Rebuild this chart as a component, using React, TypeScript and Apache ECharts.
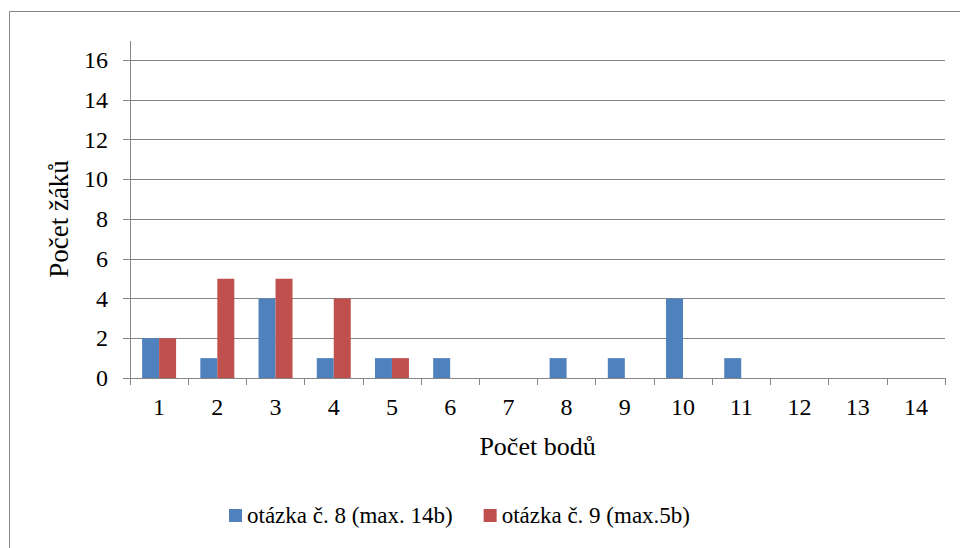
import React, { useEffect, useRef } from "react";
import * as echarts from "echarts";

const categories = ["1", "2", "3", "4", "5", "6", "7", "8", "9", "10", "11", "12", "13", "14"];
const seriesNames = ["otázka č. 8 (max. 14b)", "otázka č. 9 (max.5b)"];
const q8Values = [2, 1, 4, 1, 1, 1, 0, 1, 1, 4, 1, 0, 0, 0];
const q9Values = [2, 5, 5, 4, 1, 0, 0, 0, 0, 0, 0, 0, 0, 0];
const yTitle = "Počet žáků";
const xTitle = "Počet bodů";

const FONT = "Liberation Serif";
const GRAY = "#868686";

export default function App() {
  const ref = useRef<HTMLDivElement>(null);
  useEffect(() => {
    if (!ref.current) return;
    const chart = echarts.init(ref.current, undefined, { renderer: "svg" });
    chart.setOption({
      animation: false,
      backgroundColor: "#ffffff",
      textStyle: { fontFamily: FONT, color: "#000" },
      grid: { left: 130, right: 15, top: 60, bottom: 170, containLabel: false },
      legend: {
        left: 224,
        top: 499,
        itemWidth: 13,
        itemHeight: 13,
        itemGap: 31,
        icon: "rect",
        textStyle: { fontFamily: FONT, fontSize: 23, color: "#000" },
        data: seriesNames,
      },
      xAxis: {
        type: "category",
        data: categories,
        name: xTitle,
        nameLocation: "middle",
        nameGap: 55,
        nameTextStyle: { fontFamily: FONT, fontSize: 26, color: "#000" },
        axisLine: { show: true, lineStyle: { color: GRAY, width: 1 } },
        axisTick: { show: true, interval: 0, length: 7, lineStyle: { color: GRAY } },
        axisLabel: { interval: 0, margin: 17, fontFamily: FONT, fontSize: 24, color: "#000" },
        splitLine: { show: false },
      },
      yAxis: {
        type: "value",
        min: 0,
        max: 16,
        interval: 2,
        name: yTitle,
        nameLocation: "middle",
        nameGap: 58,
        nameTextStyle: { fontFamily: FONT, fontSize: 27, color: "#000" },
        axisLine: { show: true, lineStyle: { color: GRAY, width: 1 } },
        axisTick: { show: true, length: 7, lineStyle: { color: GRAY } },
        axisLabel: { margin: 22, fontFamily: FONT, fontSize: 24, color: "#000" },
        splitLine: { show: true, lineStyle: { color: GRAY, width: 1 } },
      },
      graphic: [
        {
          type: "rect",
          shape: { x: 9.5, y: 11.5, width: 970, height: 560 },
          style: { fill: "none", stroke: GRAY, lineWidth: 1 },
          silent: true,
        },
        {
          type: "line",
          shape: { x1: 130.5, y1: 41, x2: 130.5, y2: 60 },
          style: { stroke: GRAY, lineWidth: 1 },
          silent: true,
        },
      ],
      series: [
        {
          name: seriesNames[0],
          type: "bar",
          data: q8Values,
          barWidth: 17,
          barGap: "0%",
          itemStyle: { color: "#4F81BD" },
        },
        {
          name: seriesNames[1],
          type: "bar",
          data: q9Values,
          barWidth: 17,
          barGap: "0%",
          itemStyle: { color: "#C0504D" },
        },
      ],
    });
    return () => chart.dispose();
  }, []);
  return (
    <div
      ref={ref}
      style={{ position: "fixed", left: 0, top: 0, width: 960, height: 548 }}
    />
  );
}
